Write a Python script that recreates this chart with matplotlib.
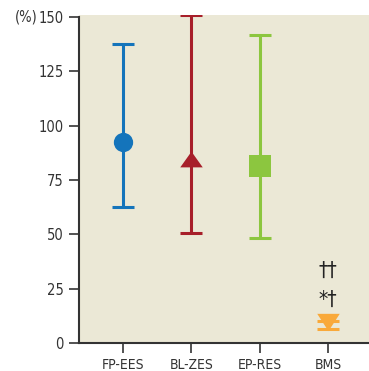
import matplotlib
matplotlib.use("Agg")
import matplotlib.pyplot as plt

plt.rcParams['font.family'] = ['DejaVu Sans']
plt.rcParams['font.stretch'] = 'condensed'

categories = ["FP-EES", "BL-ZES", "EP-RES", "BMS"]
means = [92.6, 84.6, 81.5, 9.8]
lower = [62.7, 50.8, 48.2, 6.4]
upper = [137.6, 151.2, 142.0, 10.0]
colors = ["#1474bb", "#a71f2a", "#8cc63f", "#f9a93a"]
yticks = [0, 25, 50, 75, 100, 125, 150]
annotations = ["*†", "††"]

tri_up = [(-1, -0.7), (1, -0.7), (0, 0.7)]
tri_dn = [(-1, 0.77), (1, 0.77), (0, -0.77)]
markers = ["o", tri_up, "s", tri_dn]
msizes = [13.9, 16.2, 15.6, 16.2]

fig = plt.figure(figsize=(3.69, 3.71), dpi=100)
ax = fig.add_axes([0.214, 0.0755, 0.786, 0.8841])
ax.set_facecolor("#ebe8d6")

for i, c in enumerate(categories):
    ax.errorbar(i, means[i], yerr=[[means[i] - lower[i]], [upper[i] - means[i]]],
                fmt="none", ecolor=colors[i], elinewidth=2.2, capsize=7.8, capthick=2.2, zorder=2)
    ax.plot(i, means[i], marker=markers[i], markersize=msizes[i], color=colors[i],
            markeredgewidth=0, linestyle="none", zorder=3)

ax.text(3, 33.4, annotations[1], ha="center", va="center", fontsize=15, color="#222222")
ax.text(3, 20.0, annotations[0], ha="center", va="center", fontsize=15, color="#222222")

ax.set_xlim(-0.645, 3.6)
ax.set_ylim(0, 151)
ax.set_xticks(range(len(categories)))
ax.set_xticklabels(categories, fontsize=10, color="#333333")
ax.set_yticks(yticks)
ax.set_yticklabels([str(v) for v in yticks], fontsize=10.5, color="#333333")
ax.tick_params(axis="both", direction="out", length=7, width=1.3, color="#444444", pad=4)

for s in ["top", "right"]:
    ax.spines[s].set_visible(False)
ax.spines["left"].set_bounds(0, 150)
for s in ["left", "bottom"]:
    ax.spines[s].set_linewidth(1.5)
    ax.spines[s].set_color("#333333")

fig.text(15 / 369, 1 - 17 / 371, "(%)", ha="left", va="center", fontsize=10.5, color="#333333")

fig.savefig("out.png", dpi=100)
